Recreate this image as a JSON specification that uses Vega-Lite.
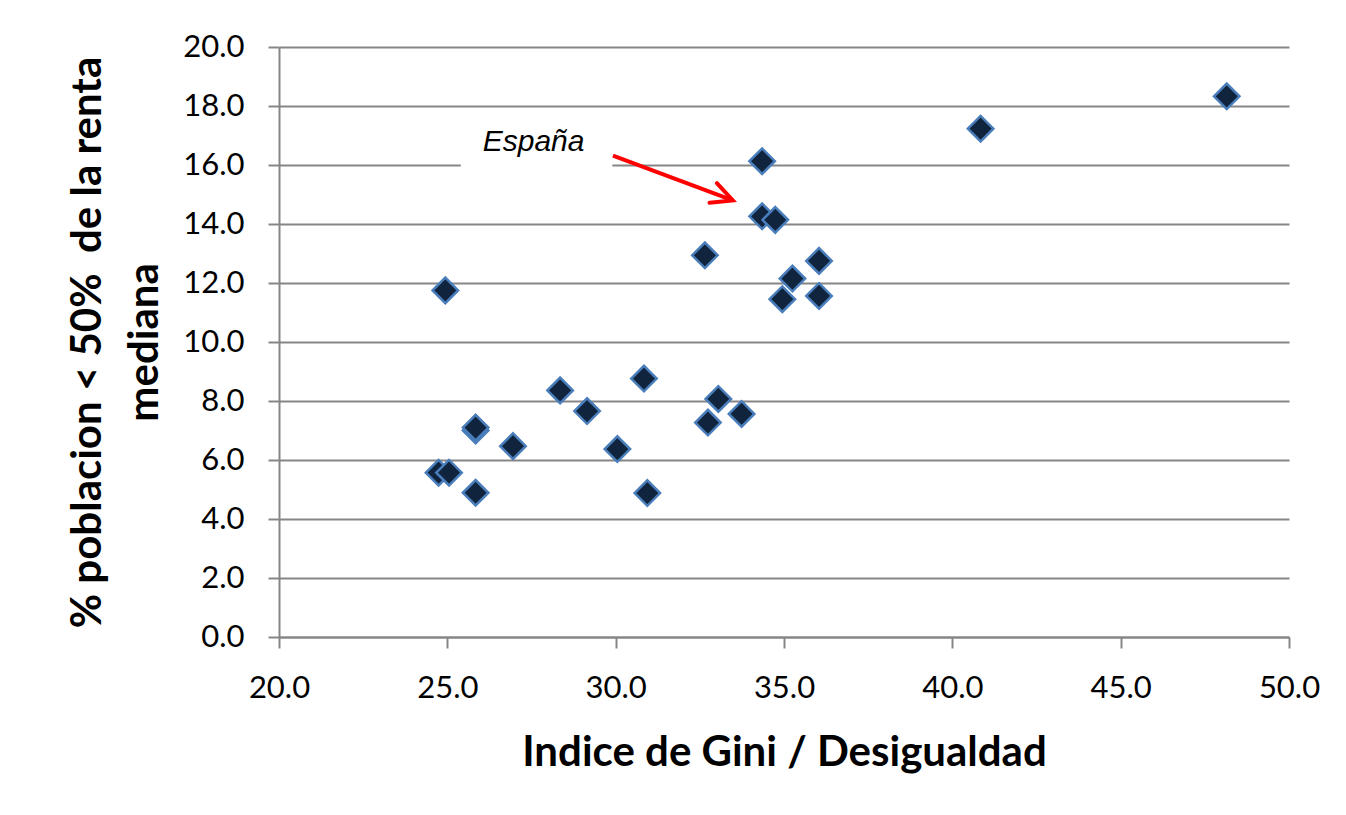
{
  "$schema": "https://vega.github.io/schema/vega-lite/v6.json",
  "width": 1010,
  "height": 590,
  "autosize": {"type": "none"},
  "padding": {"left": 279, "top": 47, "right": 57, "bottom": 178},
  "background": "white",
  "config": {"view": {"stroke": null}, "font": "Lato"},
  "datasets": {
    "paises": [
      {"gini": 24.74, "pobreza": 5.57},
      {"gini": 25.05, "pobreza": 5.57},
      {"gini": 25.84, "pobreza": 4.89},
      {"gini": 25.84, "pobreza": 7.0},
      {"gini": 25.84, "pobreza": 7.1},
      {"gini": 26.95, "pobreza": 6.47},
      {"gini": 24.94, "pobreza": 11.75},
      {"gini": 28.35, "pobreza": 8.36},
      {"gini": 29.15, "pobreza": 7.66},
      {"gini": 30.05, "pobreza": 6.37},
      {"gini": 30.84, "pobreza": 8.76},
      {"gini": 30.94, "pobreza": 4.88},
      {"gini": 32.65, "pobreza": 12.94},
      {"gini": 32.74, "pobreza": 7.27},
      {"gini": 33.05, "pobreza": 8.07},
      {"gini": 33.74, "pobreza": 7.56},
      {"gini": 34.35, "pobreza": 16.13},
      {"gini": 34.35, "pobreza": 14.26},
      {"gini": 34.74, "pobreza": 14.14},
      {"gini": 34.95, "pobreza": 11.45},
      {"gini": 35.25, "pobreza": 12.15},
      {"gini": 36.04, "pobreza": 12.75},
      {"gini": 36.04, "pobreza": 11.56},
      {"gini": 40.84, "pobreza": 17.23},
      {"gini": 48.15, "pobreza": 18.33}
    ],
    "caja": [{"gini": 25.4, "gini2": 29.9, "pobreza": 15.6, "pobreza2": 17.6}],
    "flecha": [{"gini": 29.92, "pobreza": 16.32, "gini2": 33.48, "pobreza2": 14.8}],
    "punta": [{"gini": 33.48, "pobreza": 14.8}],
    "etiqueta": [{"gini": 26.05, "pobreza": 16.49, "label": "España"}]
  },
  "layer": [
    {
      "data": {"name": "caja"},
      "mark": {"type": "rect", "fill": "white", "stroke": null},
      "encoding": {
        "x": {
          "field": "gini", "type": "quantitative",
          "scale": {"domain": [20, 50], "nice": false, "zero": false},
          "axis": {
            "title": "Indice de Gini / Desigualdad",
            "values": [20, 25, 30, 35, 40, 45, 50],
            "format": ".1f",
            "grid": false,
            "domainColor": "#868686", "domainWidth": 2,
            "tickColor": "#868686", "tickWidth": 2, "tickSize": 11,
            "labelFont": "Lato", "labelFontSize": 31, "labelColor": "black",
            "labelPadding": 25, "labelFlush": false, "labelOverlap": false,
            "titleFont": "Lato", "titleFontSize": 42, "titleFontWeight": "bold",
            "titleColor": "black", "titleBaseline": "alphabetic", "titleY": 128
          }
        },
        "x2": {"field": "gini2"},
        "y": {
          "field": "pobreza", "type": "quantitative",
          "scale": {"domain": [0, 20], "nice": false},
          "axis": {
            "title": ["% poblacion < 50%\u00a0 de la renta", "mediana"],
            "values": [0, 2, 4, 6, 8, 10, 12, 14, 16, 18, 20],
            "format": ".1f",
            "grid": true, "gridColor": "#868686", "gridWidth": 2,
            "domainColor": "#868686", "domainWidth": 2,
            "tickColor": "#868686", "tickWidth": 2, "tickSize": 11,
            "labelFont": "Lato", "labelFontSize": 31, "labelColor": "black",
            "labelPadding": 24, "labelFlush": false, "labelOverlap": false,
            "titleFont": "Lato", "titleFontSize": 42, "titleFontWeight": "bold",
            "titleColor": "black", "titleBaseline": "alphabetic",
            "titleLineHeight": 57, "titleX": -179
          }
        },
        "y2": {"field": "pobreza2"}
      }
    },
    {
      "data": {"name": "paises"},
      "mark": {"type": "point", "shape": "diamond", "filled": true, "size": 650,
               "fill": "#10243e", "stroke": "#4a7ebb", "strokeWidth": 2.5, "opacity": 1},
      "encoding": {
        "x": {"field": "gini", "type": "quantitative"},
        "y": {"field": "pobreza", "type": "quantitative"}
      }
    },
    {
      "data": {"name": "flecha"},
      "mark": {"type": "rule", "color": "#ff0000", "strokeWidth": 4},
      "encoding": {
        "x": {"field": "gini", "type": "quantitative"},
        "y": {"field": "pobreza", "type": "quantitative"},
        "x2": {"field": "gini2"},
        "y2": {"field": "pobreza2"}
      }
    },
    {
      "data": {"name": "punta"},
      "mark": {"type": "point", "shape": "M-1,-0.5L0,0L-1,0.5", "filled": false,
               "size": 1764, "angle": 20.6, "stroke": "#ff0000", "strokeWidth": 4,
               "strokeCap": "round", "strokeJoin": "miter", "opacity": 1},
      "encoding": {
        "x": {"field": "gini", "type": "quantitative"},
        "y": {"field": "pobreza", "type": "quantitative"}
      }
    },
    {
      "data": {"name": "etiqueta"},
      "mark": {"type": "text", "font": "Liberation Sans", "fontStyle": "italic",
               "fontSize": 30, "align": "left", "baseline": "alphabetic", "color": "black"},
      "encoding": {
        "x": {"field": "gini", "type": "quantitative"},
        "y": {"field": "pobreza", "type": "quantitative"},
        "text": {"field": "label"}
      }
    }
  ]
}
